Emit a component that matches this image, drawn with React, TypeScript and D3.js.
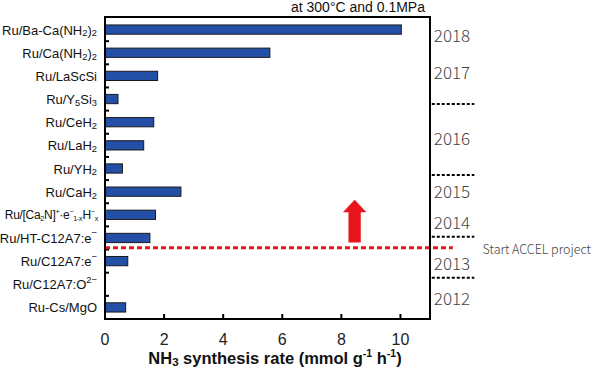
import React from "react";
import * as d3 from "d3";

// ---- data ----
const categories = [
  "Ru/Ba-Ca(NH2)2",
  "Ru/Ca(NH2)2",
  "Ru/LaScSi",
  "Ru/Y5Si3",
  "Ru/CeH2",
  "Ru/LaH2",
  "Ru/YH2",
  "Ru/CaH2",
  "Ru/[Ca2N]",
  "Ru/HT-C12A7:e",
  "Ru/C12A7:e",
  "Ru/C12A7:O",
  "Ru-Cs/MgO",
];
const rates = [10.03, 5.58, 1.78, 0.44, 1.65, 1.31, 0.59, 2.57, 1.71, 1.52, 0.77, 0, 0.7];
const xTicks = [0, 2, 4, 6, 8, 10];
const years = ["2018", "2017", "2016", "2015", "2014", "2013", "2012"];
const yearRows = [0.73, 2.33, 5.14, 7.47, 8.77, 10.58, 12.05];
const yearDividerRows = [3.71, 6.78, 9.45, 11.22];
const accelRow = 9.92;
const arrowX = 8.45;
const arrowRows = { tip: 7.86, neck: 8.38, base: 9.68 };

const W = 600;
const H = 371;
const M = { left: 105, right: 430, top: 17, bottom: 319 };

type Part = { t: string; s?: "sub" | "sup" };
const labelParts: Part[][] = [
  [{ t: "Ru/Ba-Ca(NH" }, { t: "2", s: "sub" }, { t: ")" }, { t: "2", s: "sub" }],
  [{ t: "Ru/Ca(NH" }, { t: "2", s: "sub" }, { t: ")" }, { t: "2", s: "sub" }],
  [{ t: "Ru/LaScSi" }],
  [{ t: "Ru/Y" }, { t: "5", s: "sub" }, { t: "Si" }, { t: "3", s: "sub" }],
  [{ t: "Ru/CeH" }, { t: "2", s: "sub" }],
  [{ t: "Ru/LaH" }, { t: "2", s: "sub" }],
  [{ t: "Ru/YH" }, { t: "2", s: "sub" }],
  [{ t: "Ru/CaH" }, { t: "2", s: "sub" }],
  [
    { t: "Ru/[Ca" }, { t: "2", s: "sub" }, { t: "N]" }, { t: "+", s: "sup" }, { t: "·e" },
    { t: "−", s: "sup" }, { t: "1-x", s: "sub" }, { t: "H" }, { t: "−", s: "sup" }, { t: "x", s: "sub" },
  ],
  [{ t: "Ru/HT-C12A7:e" }, { t: "−", s: "sup" }],
  [{ t: "Ru/C12A7:e" }, { t: "−", s: "sup" }],
  [{ t: "Ru/C12A7:O" }, { t: "2−", s: "sup" }],
  [{ t: "Ru-Cs/MgO" }],
];

function RichLabel({
  parts, x, y, size, scale, spacing,
}: { parts: Part[]; x: number; y: number; size: number; scale: number; spacing: number }) {
  const els: React.ReactNode[] = [];
  let cur: string | undefined = undefined;
  const off = (s?: string) => (s === "sub" ? size * 0.3 : s === "sup" ? -size * 0.35 : 0);
  parts.forEach((p, i) => {
    const dy = off(p.s) - off(cur);
    els.push(
      <tspan key={i} dy={dy} fontSize={p.s ? size * scale : size}>
        {p.t}
      </tspan>
    );
    cur = p.s;
  });
  return (
    <text x={x} y={y} textAnchor="end" dominantBaseline="central" fontSize={size} fill="#111" letterSpacing={spacing}>
      {els}
    </text>
  );
}

export default function App() {
  const x = d3.scaleLinear().domain([0, 11]).range([M.left, M.right]);
  const y = d3.scaleBand<string>().domain(categories).range([M.top + 1, M.bottom]).paddingInner(0.6).paddingOuter(0.3);
  const row = d3.scaleLinear().domain([0, categories.length]).range([M.top + 1, M.bottom]);

  const ax = x(arrowX);
  const headHalf = x(0.38) - x(0);
  const shaftHalf = x(0.2) - x(0);
  const arrowPath = [
    [ax, row(arrowRows.tip)],
    [ax + headHalf, row(arrowRows.neck)],
    [ax + shaftHalf, row(arrowRows.neck)],
    [ax + shaftHalf, row(arrowRows.base)],
    [ax - shaftHalf, row(arrowRows.base)],
    [ax - shaftHalf, row(arrowRows.neck)],
    [ax - headHalf, row(arrowRows.neck)],
  ] as [number, number][];
  const line = d3.line();

  return (
    <svg
      width={W}
      height={H}
      style={{ position: "absolute", left: 0, top: 0, background: "#fff" }}
      fontFamily="'Liberation Sans', Arial, sans-serif"
    >
      {/* bars */}
      {categories.map((c, i) =>
        rates[i] > 0 ? (
          <rect
            key={c}
            x={x(0)}
            y={y(c)!}
            width={x(rates[i]) - x(0)}
            height={y.bandwidth()}
            fill="#2350a6"
            stroke="#1a1a1a"
            strokeWidth={1}
          />
        ) : null
      )}

      {/* left ticks at band boundaries */}
      {categories.slice(1).map((c, i) => (
        <line key={c} x1={M.left} x2={M.left + 4} y1={row(i + 1)} y2={row(i + 1)} stroke="#000" strokeWidth={2} />
      ))}
      {/* bottom ticks */}
      {xTicks.slice(1).map((t) => (
        <line key={t} x1={x(t)} x2={x(t)} y1={M.bottom} y2={M.bottom - 5} stroke="#000" strokeWidth={2} />
      ))}

      {/* red accel line */}
      <line
        x1={x(0)}
        x2={x(11.77)}
        y1={row(accelRow)}
        y2={row(accelRow)}
        stroke="#e8141c"
        strokeWidth={3}
        strokeDasharray="5 3"
      />

      {/* frame */}
      <rect x={M.left} y={M.top} width={M.right - M.left} height={M.bottom - M.top} fill="none" stroke="#000" strokeWidth={2} />

      {/* year dividers */}
      {yearDividerRows.map((r) => (
        <line key={r} x1={x(11.06)} x2={x(12.5)} y1={row(r)} y2={row(r)} stroke="#000" strokeWidth={2} strokeDasharray="3 2" />
      ))}
      {years.map((yr, i) => (
        <text
          key={yr}
          x={x(11.13)}
          y={row(yearRows[i])}
          dominantBaseline="central"
          fontSize={17}
          fill="#444"
          fontFamily="'Noto Sans CJK JP', 'Noto Sans', sans-serif"
          fontWeight={300}
        >
          {yr}
        </text>
      ))}
      <text
        x={x(12.78)}
        y={row(accelRow) + 1}
        dominantBaseline="central"
        fontSize={12.5}
        fill="#444"
        fontFamily="'Noto Sans CJK JP', 'Noto Sans', sans-serif"
        fontWeight={300}
      >
        Start ACCEL project
      </text>

      {/* arrow */}
      <path d={line(arrowPath)! + "Z"} fill="#e8141c" stroke="#e8141c" strokeWidth={0.5} />

      {/* category labels */}
      {categories.map((c, i) => (
        <RichLabel
          key={c}
          parts={labelParts[i]}
          x={i === 8 ? 98 : 97}
          y={y(c)! + y.bandwidth() / 2}
          size={i === 8 ? 12 : 13}
          scale={i === 8 ? 0.6 : 0.72}
          spacing={i === 8 ? -0.3 : 0}
        />
      ))}

      {/* x tick labels */}
      {xTicks.map((t) => (
        <text key={t} x={x(t)} y={339} textAnchor="middle" dominantBaseline="central" fontSize={16} fill="#222">
          {t}
        </text>
      ))}

      {/* axis title */}
      <text x={275} y={358} textAnchor="middle" dominantBaseline="central" fontSize={16.5} fontWeight="bold" fill="#111">
        NH
        <tspan dy={4} fontSize={11.5}>3</tspan>
        <tspan dy={-4}> synthesis rate (mmol g</tspan>
        <tspan dy={-5} fontSize={10.5}>-1</tspan>
        <tspan dy={5}> h</tspan>
        <tspan dy={-5} fontSize={10.5}>-1</tspan>
        <tspan dy={5}>)</tspan>
      </text>

      {/* condition note */}
      <text x={425} y={7} textAnchor="end" dominantBaseline="central" fontSize={14} fill="#111">
        at 300°C and 0.1MPa
      </text>
    </svg>
  );
}
